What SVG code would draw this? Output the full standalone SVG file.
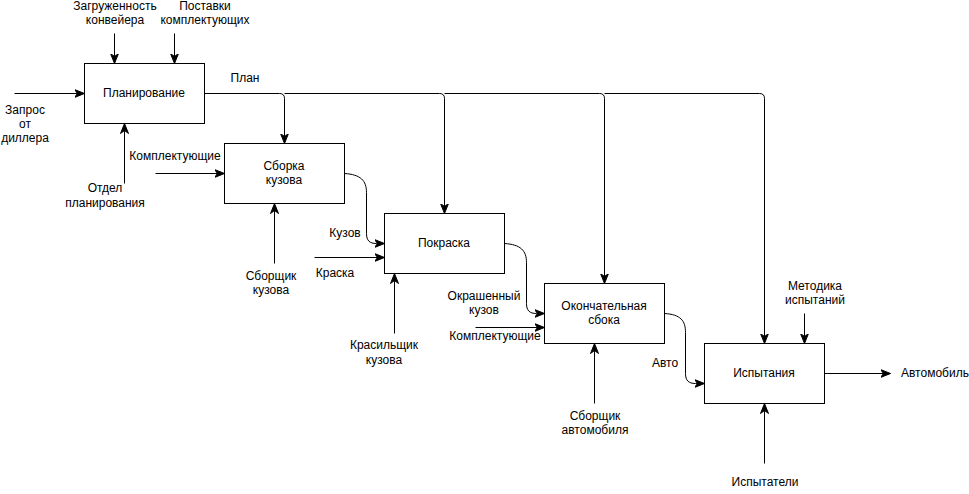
<svg xmlns="http://www.w3.org/2000/svg" width="969" height="494" viewBox="0 0 969 494">
<style>
text{font-family:"Liberation Sans",Arial,sans-serif;font-size:12px;fill:#000;text-anchor:middle}
.box{fill:#fff;stroke:#000;stroke-width:1}
.c{fill:none;stroke:#000;stroke-width:1;marker-end:url(#a)}
</style>
<defs>
<marker id="a" markerUnits="userSpaceOnUse" markerWidth="12" markerHeight="10" viewBox="0 0 12 10" refX="10" refY="5" orient="auto">
<path d="M0,1 L10,5 L0,9 L3,5 Z" fill="#000" stroke="#000" stroke-width="1"/>
</marker>
</defs>
<g id="connectors" transform="translate(0.5,0.5)">
<path class="c" d="M14 93 H84"/>
<path class="c" d="M114 33 V63"/>
<path class="c" d="M174 33 V63"/>
<path class="c" d="M124 183 V123"/>
<path class="c" d="M204 93 H279 Q284 93 284 98 V143"/>
<path class="c" d="M284 93 H439 Q444 93 444 98 V213"/>
<path class="c" d="M444 93 H599 Q604 93 604 98 V283"/>
<path class="c" d="M604 93 H759 Q764 93 764 98 V343"/>
<path class="c" d="M155 173 H224"/>
<path class="c" d="M274 263 V203"/>
<path class="c" d="M344 173 C360 174 366 180 366 192 L366 233 C366 240 369 243 376 243 L384 243"/>
<path class="c" d="M314 257 H384"/>
<path class="c" d="M394 333 V273"/>
<path class="c" d="M504 243 C520 244 526 250 526 262 L526 303 C526 310 529 313 536 313 L544 313"/>
<path class="c" d="M475 327 H544"/>
<path class="c" d="M594 403 V343"/>
<path class="c" d="M664 313 C680 314 685 320 685 332 L685 373 C685 380 688 383 695 383 L704 383"/>
<path class="c" d="M804 313 V343"/>
<path class="c" d="M824 373 H890"/>
<path class="c" d="M764 463 V403"/>
</g>
<g id="planirovanie"><rect class="box" x="84.5" y="63.5" width="120" height="60"/><text x="144" y="97">Планирование</text></g>
<g id="sborka"><rect class="box" x="224.5" y="143.5" width="120" height="60"/><text x="284" y="170">Сборка</text><text x="284" y="184">кузова</text></g>
<g id="pokraska"><rect class="box" x="384.5" y="213.5" width="120" height="60"/><text x="444" y="247">Покраска</text></g>
<g id="okonch"><rect class="box" x="544.5" y="283.5" width="120" height="60"/><text x="604" y="310">Окончательная</text><text x="604" y="324">сбока</text></g>
<g id="ispytaniya"><rect class="box" x="704.5" y="343.5" width="120" height="60"/><text x="764" y="377">Испытания</text></g>
<g id="labels">
<text x="25" y="114">Запрос</text><text x="25" y="128">от</text><text x="25" y="142">диллера</text>
<text x="115" y="10">Загруженность</text><text x="115" y="24">конвейера</text>
<text x="205" y="10">Поставки</text><text x="205" y="24">комплектующих</text>
<text x="105" y="192">Отдел</text><text x="105" y="207">планирования</text>
<text x="245" y="82">План</text>
<text x="175" y="160">Комплектующие</text>
<text x="271" y="280">Сборщик</text><text x="271" y="294">кузова</text>
<text x="345" y="237">Кузов</text>
<text x="335" y="277">Краска</text>
<text x="384" y="349">Красильщик</text><text x="384" y="364">кузова</text>
<text x="484" y="300">Окрашенный</text><text x="484" y="314">кузов</text>
<text x="495" y="340">Комплектующие</text>
<text x="595" y="420">Сборщик</text><text x="595" y="434">автомобиля</text>
<text x="665" y="367">Авто</text>
<text x="815" y="290">Методика</text><text x="815" y="304">испытаний</text>
<text x="901" y="377" style="text-anchor:start">Автомобиль</text>
<text x="765" y="486">Испытатели</text>
</g>
</svg>
